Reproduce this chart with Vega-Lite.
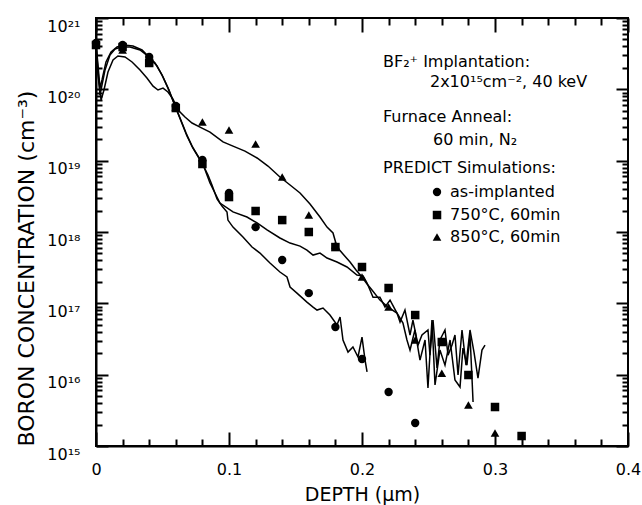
{
  "$schema": "https://vega.github.io/schema/vega-lite/v6.json",
  "width": 532,
  "height": 428,
  "autosize": "none",
  "padding": {"left": 96, "top": 18, "right": 14, "bottom": 59},
  "background": "white",
  "config": {
    "view": {"stroke": "black", "strokeWidth": 2},
    "font": "DejaVu Sans",
    "axis": {
      "domainColor": "black", "domainWidth": 2, "tickColor": "black", "tickWidth": 2,
      "labelColor": "black", "titleColor": "black", "titleFontWeight": "normal",
      "grid": false, "labelFlush": false, "labelOverlap": false, "labelFont": "DejaVu Sans", "titleFont": "DejaVu Sans"
    }
  },
  "datasets": {
    "lines": [
      {"s":"as-implanted","x":0,"y":4.18e20},{"s":"as-implanted","x":0.0015,"y":1.87e20},{"s":"as-implanted","x":0.003,"y":8.33e19},{"s":"as-implanted","x":0.0045,"y":1.15e20},{"s":"as-implanted","x":0.0068,"y":1.87e20},{"s":"as-implanted","x":0.0105,"y":3.03e20},{"s":"as-implanted","x":0.0143,"y":3.67e20},{"s":"as-implanted","x":0.0188,"y":3.92e20},{"s":"as-implanted","x":0.0256,"y":3.92e20},{"s":"as-implanted","x":0.0331,"y":3.56e20},{"s":"as-implanted","x":0.0391,"y":2.93e20},{"s":"as-implanted","x":0.0444,"y":2.34e20},{"s":"as-implanted","x":0.0496,"y":1.59e20},{"s":"as-implanted","x":0.0541,"y":1.04e20},{"s":"as-implanted","x":0.0586,"y":6.43e19},{"s":"as-implanted","x":0.0632,"y":3.96e19},{"s":"as-implanted","x":0.0677,"y":2.44e19},{"s":"as-implanted","x":0.0722,"y":1.60e19},{"s":"as-implanted","x":0.0767,"y":1.16e19},{"s":"as-implanted","x":0.0805,"y":8.69e18},{"s":"as-implanted","x":0.0842,"y":6.29e18},{"s":"as-implanted","x":0.0872,"y":4.56e18},{"s":"as-implanted","x":0.0910,"y":2.90e18},{"s":"as-implanted","x":0.0947,"y":2.31e18},{"s":"as-implanted","x":0.0985,"y":1.91e18},{"s":"as-implanted","x":0.0992,"y":1.47e18},{"s":"as-implanted","x":0.1030,"y":1.17e18},{"s":"as-implanted","x":0.1105,"y":8.51e17},{"s":"as-implanted","x":0.1173,"y":6.15e17},{"s":"as-implanted","x":0.1233,"y":5.07e17},{"s":"as-implanted","x":0.1308,"y":3.67e17},{"s":"as-implanted","x":0.1383,"y":2.75e17},{"s":"as-implanted","x":0.1436,"y":2.34e17},{"s":"as-implanted","x":0.1459,"y":1.69e17},{"s":"as-implanted","x":0.1511,"y":1.39e17},{"s":"as-implanted","x":0.1586,"y":1.04e17},{"s":"as-implanted","x":0.1632,"y":8.87e16},{"s":"as-implanted","x":0.1662,"y":8.05e16},{"s":"as-implanted","x":0.1707,"y":8.59e16},{"s":"as-implanted","x":0.1759,"y":6.85e16},{"s":"as-implanted","x":0.1812,"y":4.97e16},{"s":"as-implanted","x":0.1835,"y":6.43e16},{"s":"as-implanted","x":0.1857,"y":3.06e16},{"s":"as-implanted","x":0.1895,"y":2.07e16},{"s":"as-implanted","x":0.1932,"y":2.44e16},{"s":"as-implanted","x":0.1970,"y":1.77e16},{"s":"as-implanted","x":0.2,"y":3.37e16},{"s":"as-implanted","x":0.2023,"y":1.60e16},{"s":"as-implanted","x":0.2038,"y":1.09e16},
      {"s":"750","x":0,"y":4.46e20},{"s":"750","x":0.0015,"y":2.19e20},{"s":"750","x":0.003,"y":1.04e20},{"s":"750","x":0.0045,"y":1.35e20},{"s":"750","x":0.0075,"y":2.42e20},{"s":"750","x":0.0113,"y":3.33e20},{"s":"750","x":0.0158,"y":3.92e20},{"s":"750","x":0.0211,"y":4.18e20},{"s":"750","x":0.0278,"y":4.05e20},{"s":"750","x":0.0346,"y":3.56e20},{"s":"750","x":0.0406,"y":2.75e20},{"s":"750","x":0.0459,"y":2.12e20},{"s":"750","x":0.0504,"y":1.49e20},{"s":"750","x":0.0549,"y":9.79e19},{"s":"750","x":0.0594,"y":5.84e19},{"s":"750","x":0.0639,"y":3.60e19},{"s":"750","x":0.0684,"y":2.22e19},{"s":"750","x":0.0729,"y":1.50e19},{"s":"750","x":0.0774,"y":1.09e19},{"s":"750","x":0.0812,"y":8.15e18},{"s":"750","x":0.0857,"y":4.86e18},{"s":"750","x":0.0932,"y":2.55e18},{"s":"750","x":0.1030,"y":1.91e18},{"s":"750","x":0.1135,"y":1.62e18},{"s":"750","x":0.1211,"y":1.34e18},{"s":"750","x":0.1286,"y":1.07e18},{"s":"750","x":0.1383,"y":8.24e17},{"s":"750","x":0.1459,"y":7.00e17},{"s":"750","x":0.1534,"y":6.35e17},{"s":"750","x":0.1586,"y":5.58e17},{"s":"750","x":0.1632,"y":4.75e17},{"s":"750","x":0.1684,"y":5.07e17},{"s":"750","x":0.1737,"y":4.32e17},{"s":"750","x":0.1812,"y":3.79e17},{"s":"750","x":0.1887,"y":3.23e17},{"s":"750","x":0.1962,"y":2.49e17},{"s":"750","x":0.2008,"y":2.42e17},{"s":"750","x":0.2038,"y":1.93e17},{"s":"750","x":0.2083,"y":1.22e17},{"s":"750","x":0.2135,"y":1.22e17},{"s":"750","x":0.2173,"y":8.87e16},{"s":"750","x":0.2211,"y":1.11e17},{"s":"750","x":0.2263,"y":7.31e16},{"s":"750","x":0.2286,"y":5.47e16},{"s":"750","x":0.2323,"y":8.05e16},{"s":"750","x":0.2361,"y":3.60e16},{"s":"750","x":0.2383,"y":5.83e16},{"s":"750","x":0.2421,"y":2.60e16},{"s":"750","x":0.2451,"y":3.60e16},{"s":"750","x":0.2496,"y":4.23e16},{"s":"750","x":0.2511,"y":1.88e16},{"s":"750","x":0.2534,"y":5.83e16},{"s":"750","x":0.2564,"y":1.24e16},{"s":"750","x":0.2586,"y":3.06e16},{"s":"750","x":0.2624,"y":4.23e16},{"s":"750","x":0.2647,"y":1.88e16},{"s":"750","x":0.2677,"y":2.60e16},{"s":"750","x":0.2699,"y":3.60e16},{"s":"750","x":0.2722,"y":9.89e15},{"s":"750","x":0.2752,"y":4.23e16},{"s":"750","x":0.2782,"y":1.36e16},{"s":"750","x":0.2812,"y":4.23e16},{"s":"750","x":0.2842,"y":2.07e16},{"s":"750","x":0.2872,"y":8.97e15},{"s":"750","x":0.2902,"y":2.21e16},{"s":"750","x":0.2925,"y":2.60e16},
      {"s":"850","x":0,"y":3.56e20},{"s":"850","x":0.0015,"y":1.59e20},{"s":"850","x":0.0038,"y":7.08e19},{"s":"850","x":0.006,"y":9.79e19},{"s":"850","x":0.009,"y":1.75e20},{"s":"850","x":0.0128,"y":2.58e20},{"s":"850","x":0.0165,"y":2.93e20},{"s":"850","x":0.0218,"y":2.84e20},{"s":"850","x":0.0271,"y":2.42e20},{"s":"850","x":0.0331,"y":1.87e20},{"s":"850","x":0.0383,"y":1.44e20},{"s":"850","x":0.0429,"y":1.11e20},{"s":"850","x":0.0466,"y":9.79e19},{"s":"850","x":0.0504,"y":1.04e20},{"s":"850","x":0.0541,"y":9.18e19},{"s":"850","x":0.0579,"y":7.31e19},{"s":"850","x":0.0617,"y":5.13e19},{"s":"850","x":0.0669,"y":4.09e19},{"s":"850","x":0.0722,"y":3.37e19},{"s":"850","x":0.0782,"y":2.96e19},{"s":"850","x":0.0857,"y":2.52e19},{"s":"850","x":0.0955,"y":1.83e19},{"s":"850","x":0.1030,"y":1.60e19},{"s":"850","x":0.1120,"y":1.36e19},{"s":"850","x":0.1211,"y":1.09e19},{"s":"850","x":0.1293,"y":8.41e18},{"s":"850","x":0.1383,"y":5.90e18},{"s":"850","x":0.1459,"y":4.56e18},{"s":"850","x":0.1534,"y":3.52e18},{"s":"850","x":0.1609,"y":2.47e18},{"s":"850","x":0.1684,"y":1.62e18},{"s":"850","x":0.1737,"y":1.17e18},{"s":"850","x":0.1782,"y":9.68e17},{"s":"850","x":0.1812,"y":6.15e17},{"s":"850","x":0.1857,"y":4.91e17},{"s":"850","x":0.1910,"y":3.79e17},{"s":"850","x":0.1955,"y":2.93e17},{"s":"850","x":0.2,"y":2.34e17},{"s":"850","x":0.2038,"y":1.87e17},{"s":"850","x":0.2075,"y":1.54e17},{"s":"850","x":0.2135,"y":1.11e17},{"s":"850","x":0.2195,"y":8.87e16},{"s":"850","x":0.2263,"y":7.31e16},{"s":"850","x":0.2308,"y":5.30e16},{"s":"850","x":0.2338,"y":3.06e16},{"s":"850","x":0.2361,"y":2.21e16},{"s":"850","x":0.2398,"y":4.23e16},{"s":"850","x":0.2436,"y":1.60e16},{"s":"850","x":0.2474,"y":3.06e16},{"s":"850","x":0.2496,"y":6.50e15},{"s":"850","x":0.2526,"y":5.83e16},{"s":"850","x":0.2549,"y":7.16e15},{"s":"850","x":0.2586,"y":2.21e16},{"s":"850","x":0.2624,"y":1.36e16},{"s":"850","x":0.2662,"y":3.06e16},{"s":"850","x":0.2699,"y":8.41e15},{"s":"850","x":0.2737,"y":6.71e15},{"s":"850","x":0.2759,"y":2.36e16},{"s":"850","x":0.2789,"y":1.36e16},{"s":"850","x":0.2812,"y":3.60e16},{"s":"850","x":0.2827,"y":8.97e15},{"s":"850","x":0.2835,"y":4.13e15}
    ],
    "points": [
      {"s":"as-implanted","x":0,"y":4.46e20},{"s":"as-implanted","x":0.02,"y":4.18e20},{"s":"as-implanted","x":0.04,"y":2.84e20},{"s":"as-implanted","x":0.06,"y":5.84e19},{"s":"as-implanted","x":0.08,"y":1.02e19},{"s":"as-implanted","x":0.1,"y":3.52e18},{"s":"as-implanted","x":0.12,"y":1.17e18},{"s":"as-implanted","x":0.14,"y":4.05e17},{"s":"as-implanted","x":0.16,"y":1.39e17},{"s":"as-implanted","x":0.18,"y":4.66e16},{"s":"as-implanted","x":0.2,"y":1.66e16},{"s":"as-implanted","x":0.22,"y":5.71e15},{"s":"as-implanted","x":0.24,"y":2.10e15},
      {"s":"750","x":0,"y":4.18e20},{"s":"750","x":0.02,"y":3.92e20},{"s":"750","x":0.04,"y":2.34e20},{"s":"750","x":0.06,"y":5.47e19},{"s":"750","x":0.08,"y":8.98e18},{"s":"750","x":0.1,"y":3.09e18},{"s":"750","x":0.12,"y":1.97e18},{"s":"750","x":0.14,"y":1.47e18},{"s":"750","x":0.16,"y":1.0e18},{"s":"750","x":0.18,"y":6.15e17},{"s":"750","x":0.2,"y":3.23e17},{"s":"750","x":0.22,"y":1.64e17},{"s":"750","x":0.24,"y":6.85e16},{"s":"750","x":0.26,"y":2.87e16},{"s":"750","x":0.28,"y":9.89e15},{"s":"750","x":0.3,"y":3.52e15},{"s":"750","x":0.32,"y":1.38e15},
      {"s":"850","x":0.02,"y":3.56e20},{"s":"850","x":0.04,"y":2.58e20},{"s":"850","x":0.06,"y":5.65e19},{"s":"850","x":0.08,"y":3.48e19},{"s":"850","x":0.1,"y":2.69e19},{"s":"850","x":0.12,"y":1.71e19},{"s":"850","x":0.14,"y":5.90e18},{"s":"850","x":0.16,"y":1.73e18},{"s":"850","x":0.18,"y":6.56e17},{"s":"850","x":0.2,"y":2.34e17},{"s":"850","x":0.22,"y":8.87e16},{"s":"850","x":0.24,"y":3.06e16},{"s":"850","x":0.26,"y":1.05e16},{"s":"850","x":0.28,"y":3.75e15},{"s":"850","x":0.3,"y":1.52e15}
    ],
    "legendpts": [
      {"s":"as-implanted","x":0.2564,"y":3.64e18},{"s":"750","x":0.2564,"y":1.73e18},{"s":"850","x":0.2564,"y":8.51e17}
    ],
    "notes": [
      {"x":0.2158,"y":2.42e20,"t":"BF₂⁺ Implantation:"},
      {"x":0.2511,"y":1.27e20,"t":"2x10¹⁵cm⁻², 40 keV"},
      {"x":0.2158,"y":4.09e19,"t":"Furnace Anneal:"},
      {"x":0.2534,"y":1.95e19,"t":"60 min, N₂"},
      {"x":0.2158,"y":7.89e18,"t":"PREDICT Simulations:"},
      {"x":0.2662,"y":3.64e18,"t":"as-implanted"},
      {"x":0.2662,"y":1.73e18,"t":"750°C, 60min"},
      {"x":0.2662,"y":8.51e17,"t":"850°C, 60min"}
    ]
  },
  "layer": [
    {
      "data": {"name": "lines"},
      "mark": {"type": "line", "color": "black", "strokeWidth": 1.5, "interpolate": "linear"},
      "encoding": {
        "x": {"field": "x", "type": "quantitative", "scale": {"domain": [0, 0.4], "nice": false, "zero": false},
          "axis": {"orient": "bottom", "title": "DEPTH (μm)", "titleFontSize": 19, "titlePadding": 8,
            "values": [0, 0.1, 0.2, 0.3, 0.4], "format": "~g", "ticks": false,
            "labelFontSize": 16, "labelPadding": 15}},
        "y": {"field": "y", "type": "quantitative", "scale": {"type": "log", "domain": [1e15, 1e21], "nice": false},
          "axis": {"orient": "left", "title": "BORON CONCENTRATION (cm⁻³)", "titleFontSize": 22, "titlePadding": 8, "titleAnchor": "start",
            "values": [1e15, 1e16, 1e17, 1e18, 1e19, 1e20, 1e21], "ticks": false,
            "labelExpr": "'10' + ['¹⁵','¹⁶','¹⁷','¹⁸','¹⁹','²⁰','²¹'][round(log(datum.value)/LN10) - 15]",
            "labelFontSize": 16, "labelPadding": 16, "labelOffset": 8}},
        "detail": {"field": "s", "type": "nominal"}
      }
    },
    {
      "data": {"name": "points"},
      "mark": {"type": "point", "filled": true, "color": "black", "opacity": 1},
      "encoding": {
        "x": {"field": "x", "type": "quantitative",
          "axis": {"orient": "top", "offset": -428, "title": null, "labels": false, "domain": false, "values": [0, 0.1, 0.2, 0.3, 0.4], "tickSize": 14}},
        "y": {"field": "y", "type": "quantitative",
          "axis": {"orient": "right", "offset": -532, "title": null, "labels": false, "domain": false, "values": [1e15, 1e16, 1e17, 1e18, 1e19, 1e20, 1e21], "tickSize": 12}},
        "shape": {"field": "s", "type": "nominal", "scale": {"domain": ["as-implanted","750","850"], "range": ["circle","square","triangle-up"]}, "legend": null},
        "size": {"field": "s", "type": "nominal", "scale": {"domain": ["as-implanted","750","850"], "range": [70,75,55]}, "legend": null}
      }
    },
    {
      "data": {"name": "legendpts"},
      "mark": {"type": "point", "filled": true, "color": "black", "opacity": 1},
      "encoding": {
        "x": {"field": "x", "type": "quantitative",
          "axis": {"orient": "top", "offset": -428, "title": null, "labels": false, "domain": false,
            "values": [0.02,0.04,0.06,0.08,0.12,0.14,0.16,0.18,0.22,0.24,0.26,0.28,0.32,0.34,0.36,0.38], "tickSize": 7}},
        "y": {"field": "y", "type": "quantitative",
          "axis": {"orient": "right", "offset": -532, "title": null, "labels": false, "domain": false,
            "values": [2e15,3e15,4e15,5e15,6e15,7e15,8e15,9e15,2e16,3e16,4e16,5e16,6e16,7e16,8e16,9e16,2e17,3e17,4e17,5e17,6e17,7e17,8e17,9e17,2e18,3e18,4e18,5e18,6e18,7e18,8e18,9e18,2e19,3e19,4e19,5e19,6e19,7e19,8e19,9e19,2e20,3e20,4e20,5e20,6e20,7e20,8e20,9e20], "tickSize": 6}},
        "shape": {"field": "s", "type": "nominal", "legend": null},
        "size": {"field": "s", "type": "nominal", "legend": null}
      }
    },
    {
      "data": {"name": "notes"},
      "mark": {"type": "text", "align": "left", "baseline": "middle", "fontSize": 16, "font": "DejaVu Sans", "color": "black"},
      "encoding": {
        "x": {"field": "x", "type": "quantitative",
          "axis": {"orient": "bottom", "offset": -428, "title": null, "labels": false, "domain": false,
            "values": [0.02,0.04,0.06,0.08,0.12,0.14,0.16,0.18,0.22,0.24,0.26,0.28,0.32,0.34,0.36,0.38], "tickSize": 7}},
        "y": {"field": "y", "type": "quantitative",
          "axis": {"orient": "left", "offset": -532, "title": null, "labels": false, "domain": false,
            "values": [2e15,3e15,4e15,5e15,6e15,7e15,8e15,9e15,2e16,3e16,4e16,5e16,6e16,7e16,8e16,9e16,2e17,3e17,4e17,5e17,6e17,7e17,8e17,9e17,2e18,3e18,4e18,5e18,6e18,7e18,8e18,9e18,2e19,3e19,4e19,5e19,6e19,7e19,8e19,9e19,2e20,3e20,4e20,5e20,6e20,7e20,8e20,9e20], "tickSize": 6}},
        "text": {"field": "t", "type": "nominal"}
      }
    },
    {
      "data": {"name": "legendpts"},
      "mark": {"type": "point", "opacity": 0},
      "encoding": {
        "x": {"field": "x", "type": "quantitative",
          "axis": {"orient": "bottom", "offset": -428, "title": null, "labels": false, "domain": false, "values": [0, 0.1, 0.2, 0.3, 0.4], "tickSize": 14}},
        "y": {"field": "y", "type": "quantitative",
          "axis": {"orient": "left", "offset": -532, "title": null, "labels": false, "domain": false, "values": [1e15, 1e16, 1e17, 1e18, 1e19, 1e20, 1e21], "tickSize": 12}}
      }
    }
  ],
  "resolve": {"axis": {"x": "independent", "y": "independent"}}
}
